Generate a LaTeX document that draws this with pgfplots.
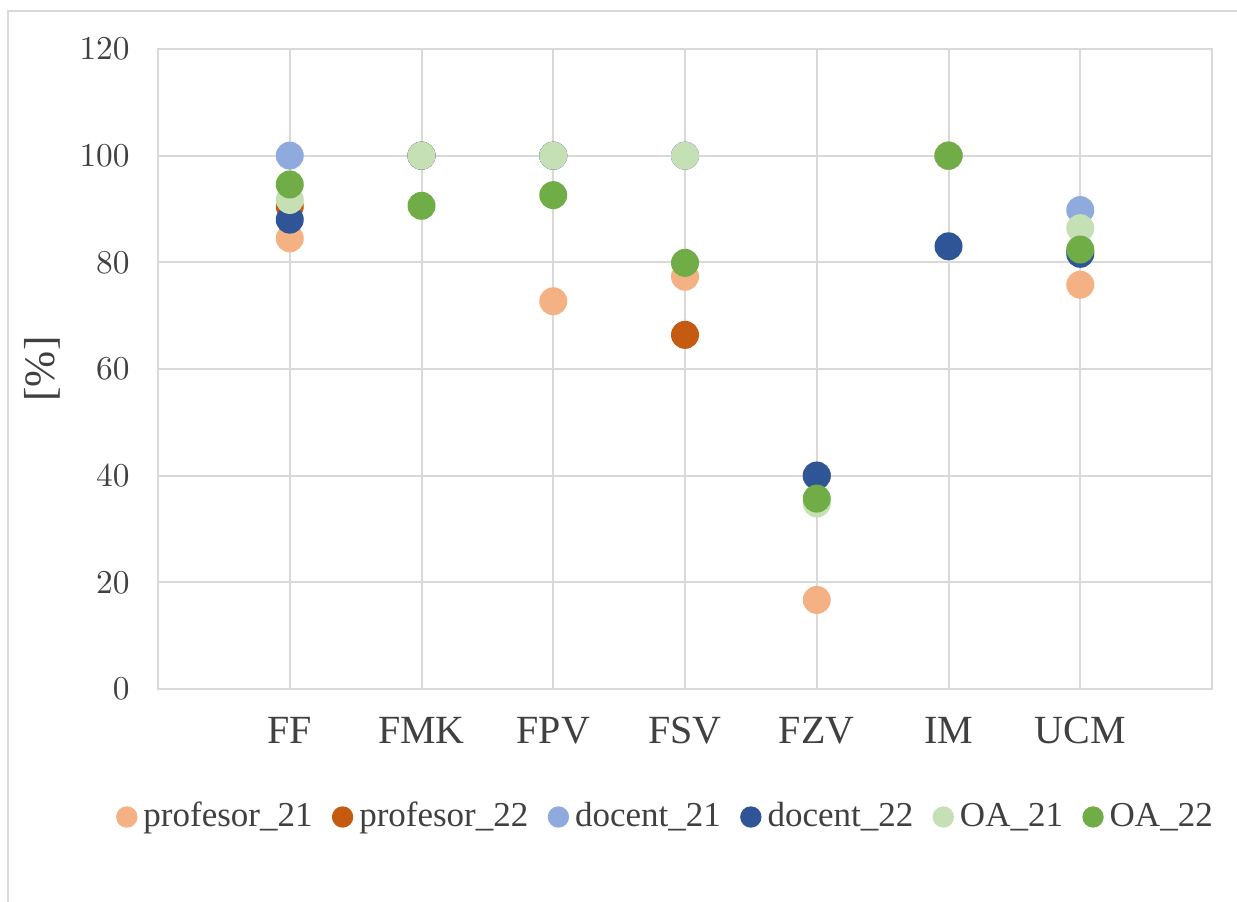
\documentclass[border=0pt]{standalone}
\usepackage{pgfplots}
\pgfplotsset{compat=1.18}
\usepackage{pgfplotstable}
\usepackage{fontspec}
\setmainfont{Liberation Serif}

\definecolor{pA}{HTML}{F4B183}
\definecolor{pB}{HTML}{C55A11}
\definecolor{dA}{HTML}{8FAADC}
\definecolor{dB}{HTML}{2F5597}
\definecolor{oA}{HTML}{C5E0B4}
\definecolor{oB}{HTML}{70AD47}
\definecolor{gridgray}{HTML}{D9D9D9}
\definecolor{txt}{HTML}{404040}

% x: 1=FF 2=FMK 3=FPV 4=FSV 5=FZV 6=IM 7=UCM
\pgfplotstableread{
x  p21   p22   d21   d22   oa21  oa22
1  84.5  90.5  100   88.0  91.7  94.6
2  100   100   100   100   100   90.6
3  72.7  100   100   100   100   92.6
4  77.3  66.4  100   100   100   79.9
5  16.7  40.0  40.0  40.0  34.8  35.7
6  100   100   100   83.0  100   100
7  75.8  82.0  89.8  81.6  86.4  82.4
}\datatable

\begin{document}
\begin{tikzpicture}
\useasboundingbox (0,0) rectangle (371.1pt,270.3pt);
\draw[gridgray, line width=0.6pt] (2.4pt,-10pt) rectangle (380pt,267pt);
\begin{axis}[
  at={(47.4pt,63.6pt)}, anchor=south west,
  scale only axis,
  width=316.2pt, height=192pt,
  xmin=0, xmax=8, ymin=0, ymax=120,
  xtick={1,...,7},
  xticklabels={FF,FMK,FPV,FSV,FZV,IM,UCM},
  ytick={0,20,...,120},
  grid=major,
  major grid style={gridgray, line width=0.6pt},
  axis line style={gridgray, line width=0.6pt},
  major tick length=0pt,
  yticklabel style={font=\fontsize{10}{12}\selectfont, text=txt, xshift=-5pt},
  xticklabel style={font=\fontsize{12}{14}\selectfont, text=txt, yshift=-5pt},
  ylabel={[\%]},
  ylabel style={at={(axis description cs:-0.110,0.5)}, anchor=center,
    font=\fontsize{13}{15}\selectfont, text=txt},
  legend columns=6,
  legend style={at={(axis description cs:0.484,-0.2)}, anchor=center,
    draw=none, fill=none, font=\fontsize{10.5}{12}\selectfont, text=txt,
    /tikz/every even column/.append style={column sep=4pt}},
  legend image code/.code={\draw[#1, mark size=3pt] plot coordinates {(0pt,0pt)};},
]
\addplot[only marks, mark=*, mark size=4pt, color=pA] table[x=x, y=p21] {\datatable};
\addlegendentry{profesor\_21}
\addplot[only marks, mark=*, mark size=4pt, color=pB] table[x=x, y=p22] {\datatable};
\addlegendentry{profesor\_22}
\addplot[only marks, mark=*, mark size=4pt, color=dA] table[x=x, y=d21] {\datatable};
\addlegendentry{docent\_21}
\addplot[only marks, mark=*, mark size=4pt, color=dB] table[x=x, y=d22] {\datatable};
\addlegendentry{docent\_22}
\addplot[only marks, mark=*, mark size=4pt, color=oA] table[x=x, y=oa21] {\datatable};
\addlegendentry{OA\_21}
\addplot[only marks, mark=*, mark size=4pt, color=oB] table[x=x, y=oa22] {\datatable};
\addlegendentry{OA\_22}
\end{axis}
\end{tikzpicture}
\end{document}
